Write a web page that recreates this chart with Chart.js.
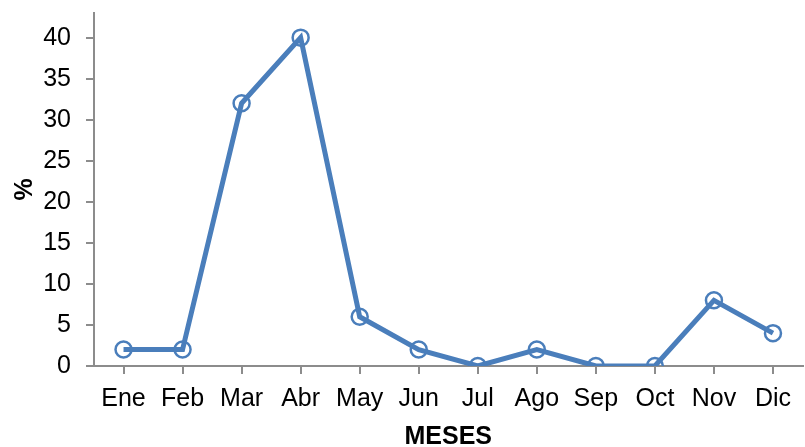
<!DOCTYPE html>
<html>
<head>
<meta charset="utf-8">
<script src="https://cdn.jsdelivr.net/npm/chart.js@4"></script>
<style>
  html, body { margin: 0; padding: 0; background: #fff; overflow: hidden; }
  #wrap { width: 805px; height: 447px; overflow: hidden; }
  #box { width: 813px; height: 447px; }
</style>
</head>
<body>
<div id="wrap"><div id="box"><canvas id="c"></canvas></div></div>
<script>
  const meses = ["Ene", "Feb", "Mar", "Abr", "May", "Jun", "Jul", "Ago", "Sep", "Oct", "Nov", "Dic"];
  const porcentaje = [2, 2, 32, 40, 6, 2, 0, 2, 0, 0, 8, 4];
  const yTicks = [0, 5, 10, 15, 20, 25, 30, 35, 40];

  const blue = "#4a7ebb";
  const axisGray = "#8c8c8c";
  const font = { family: "'Liberation Sans', Arial, sans-serif", size: 25 };

  new Chart(document.getElementById("c"), {
    type: "line",
    data: {
      labels: meses,
      datasets: [{
        data: porcentaje,
        borderColor: blue,
        borderWidth: 5,
        pointRadius: 8,
        pointBorderWidth: 2.5,
        pointBackgroundColor: "rgba(0,0,0,0)",
        pointBorderColor: blue,
        tension: 0
      }]
    },
    options: {
      responsive: true,
      maintainAspectRatio: false,
      animation: false,
      layout: { padding: { top: 13, left: 0, right: 0, bottom: 0 } },
      plugins: { legend: { display: false }, tooltip: { enabled: false } },
      scales: {
        x: {
          offset: true,
          border: { color: axisGray, width: 2 },
          grid: { drawOnChartArea: false, color: axisGray, lineWidth: 2, tickLength: 8 },
          ticks: { color: "#000", font, padding: 10, maxRotation: 0, autoSkip: false },
          title: { display: true, text: "MESES", color: "#000",
                   font: { ...font, weight: "bold", lineHeight: 1 }, padding: { top: 0, bottom: -3 } },
          afterFit: (s) => { s.height = 81; s.paddingLeft = 0; s.paddingRight = 0; }
        },
        y: {
          min: 0,
          max: 43,
          border: { color: axisGray, width: 2 },
          grid: { drawOnChartArea: false, color: axisGray, lineWidth: 2, tickLength: 8 },
          ticks: { color: "#000", font, padding: 15 },
          afterBuildTicks: (s) => { s.ticks = yTicks.map(v => ({ value: v })); },
          title: { display: true, text: "%", color: "#000",
                   font: { ...font, weight: "bold" }, padding: { top: 10, bottom: 0 } },
          afterFit: (s) => { s.width = 94; s.paddingTop = 0; s.paddingBottom = 0; }
        }
      }
    }
  });
</script>
</body>
</html>
